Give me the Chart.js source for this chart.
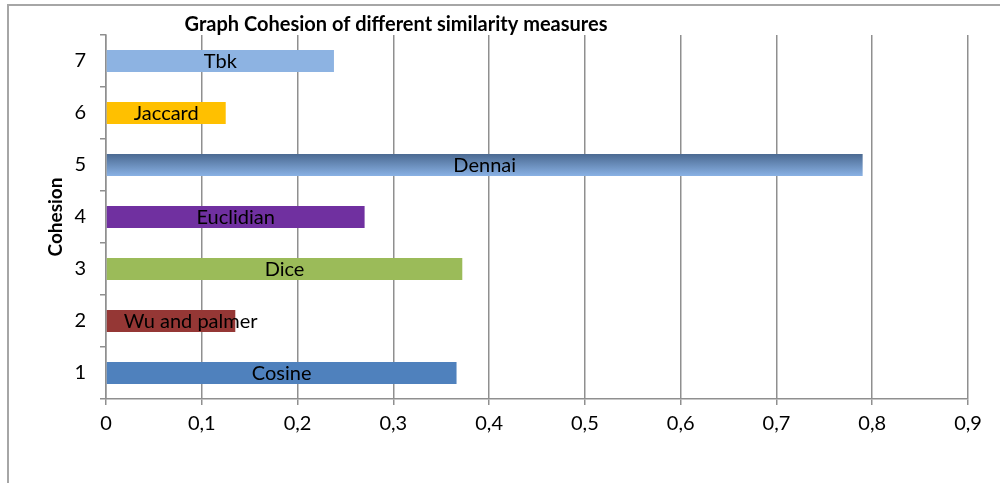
<!DOCTYPE html>
<html>
<head>
<meta charset="utf-8">
<script src="https://cdn.jsdelivr.net/npm/chart.js@4.4.1/dist/chart.umd.min.js"></script>
<style>
  html, body { margin: 0; padding: 0; background: #fff; }
  canvas { display: block; }
</style>
</head>
<body>
<canvas id="chart" width="1000" height="483"></canvas>
<script>
// Categories (row numbers) and the similarity measure shown on each row
const categories = ['1', '2', '3', '4', '5', '6', '7'];
const measures = ['Cosine', 'Wu and palmer', 'Dice', 'Euclidian', 'Dennai', 'Jaccard', 'Tbk'];
// Graph cohesion per measure
const cohesion = [0.366, 0.135, 0.372, 0.270, 0.790, 0.125, 0.238];
// Value axis tick labels (decimal comma)
const xTickLabels = ['0', '0,1', '0,2', '0,3', '0,4', '0,5', '0,6', '0,7', '0,8', '0,9'];

// Bar fills; a pair means a vertical gradient (top, bottom)
const barColors = ['#4F81BD', '#953735', '#9BBB59', '#7030A0', ['#4b6a92', '#89b1e4'], '#FFC000', '#8DB3E2'];

const FONT = 'Lato';
const GRID = '#8f8f8f';
const BAR_FRACTION = 0.42;

function barFill(ctx) {
  const c = barColors[ctx.dataIndex];
  if (!Array.isArray(c)) return c;
  const chart = ctx.chart;
  const y = chart.scales && chart.scales.y;
  if (!y || !chart.chartArea) return c[1];
  const cy = y.getPixelForValue(ctx.dataIndex);
  const h = (y.height / categories.length) * BAR_FRACTION;
  const g = chart.ctx.createLinearGradient(0, cy - h / 2, 0, cy + h / 2);
  g.addColorStop(0, c[0]);
  g.addColorStop(1, c[1]);
  return g;
}

// Outer frame of the chart object
const framePlugin = {
  id: 'frame',
  beforeDraw(chart) {
    const ctx = chart.ctx;
    ctx.save();
    ctx.strokeStyle = '#a6a6a6';
    ctx.lineWidth = 2;
    ctx.beginPath();
    ctx.moveTo(8, chart.height);
    ctx.lineTo(8, 5);
    ctx.lineTo(chart.width, 5);
    ctx.stroke();
    ctx.restore();
  }
};

// Chart heading
const headingPlugin = {
  id: 'heading',
  afterDraw(chart) {
    const ctx = chart.ctx;
    ctx.save();
    ctx.font = 'bold 20px ' + FONT;
    ctx.fillStyle = '#000';
    ctx.textAlign = 'center';
    ctx.textBaseline = 'alphabetic';
    ctx.fillText('Graph Cohesion of different similarity measures', 396, 31);
    ctx.restore();
  }
};

// Measure name written on each bar
const barNamePlugin = {
  id: 'barNames',
  afterDatasetsDraw(chart) {
    const ctx = chart.ctx;
    const meta = chart.getDatasetMeta(0);
    ctx.save();
    ctx.font = '20px ' + FONT;
    ctx.fillStyle = '#000';
    ctx.textBaseline = 'middle';
    meta.data.forEach((bar, i) => {
      const text = measures[i];
      const w = ctx.measureText(text).width;
      const len = Math.abs(bar.x - bar.base);
      if (w > len) {
        ctx.textAlign = 'left';
        ctx.fillText(text, bar.base + 17, bar.y + 1);
      } else {
        ctx.textAlign = 'center';
        ctx.fillText(text, (bar.x + bar.base) / 2, bar.y + 1);
      }
    });
    ctx.restore();
  }
};

new Chart(document.getElementById('chart'), {
  type: 'bar',
  data: {
    labels: categories,
    datasets: [{
      label: 'Cohesion',
      data: cohesion,
      backgroundColor: barFill,
      borderWidth: 0,
      categoryPercentage: 1,
      barPercentage: BAR_FRACTION
    }]
  },
  plugins: [framePlugin, headingPlugin, barNamePlugin],
  options: {
    indexAxis: 'y',
    responsive: false,
    animation: false,
    layout: { padding: { top: 35, left: 0, right: 32, bottom: 0 } },
    plugins: {
      legend: { display: false },
      tooltip: { enabled: false },
      title: { display: false }
    },
    scales: {
      x: {
        type: 'linear',
        min: 0,
        max: 0.9,
        afterFit(scale) { scale.height = 84; },
        ticks: {
          stepSize: 0.1,
          color: '#000',
          font: { family: FONT, size: 20 },
          padding: 7,
          callback: (v, i) => xTickLabels[i]
        },
        grid: { color: GRID, lineWidth: 1.5, tickLength: 6, drawTicks: true },
        border: { display: true, color: GRID, width: 1.5 }
      },
      y: {
        type: 'category',
        reverse: true,
        offset: true,
        afterFit(scale) { scale.width = 106; },
        ticks: {
          color: '#000',
          font: { family: FONT, size: 20 },
          padding: 14
        },
        grid: { offset: true, drawOnChartArea: false, drawTicks: true, tickLength: 6, color: GRID, lineWidth: 1.5 },
        border: { display: true, color: GRID, width: 1.5 },
        title: {
          display: true,
          text: 'Cohesion',
          color: '#000',
          font: { family: FONT, size: 19, weight: 'bold' },
          padding: { top: 44, bottom: 0 }
        }
      }
    }
  }
});
</script>
</body>
</html>
